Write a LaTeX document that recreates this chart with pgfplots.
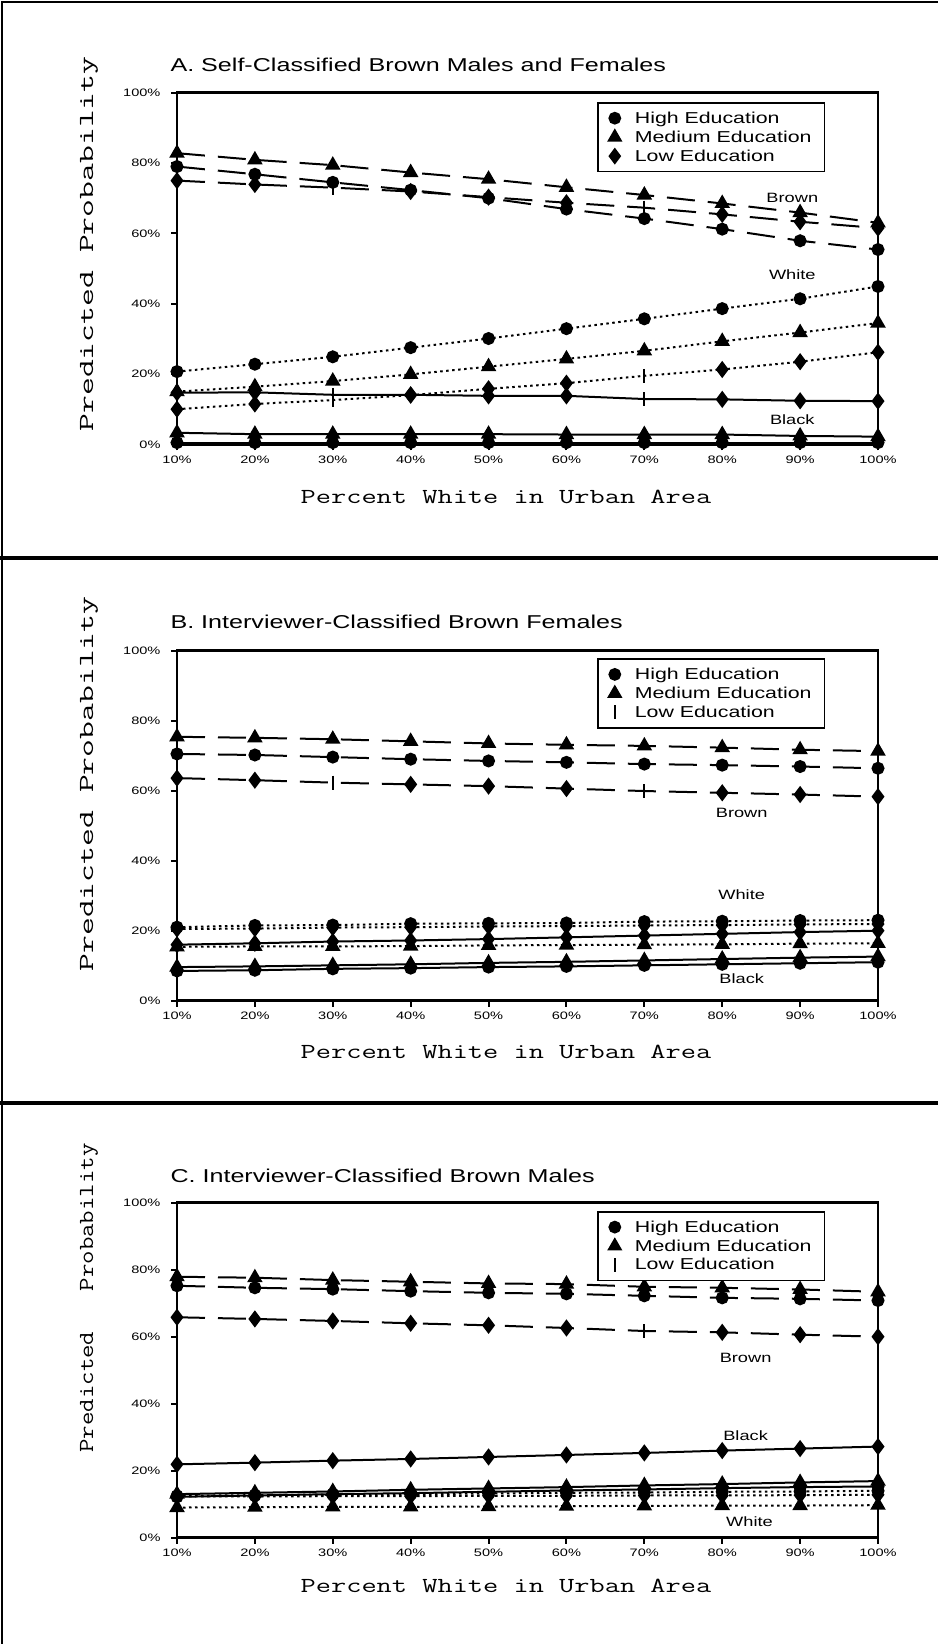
\documentclass[border=0pt]{standalone}
\usepackage{fontspec}
\setmainfont{Liberation Sans}[FakeStretch=1.35]
\usepackage{graphicx}
\usepackage{pgfplots}
\usepackage{pgfplotstable}
\pgfplotsset{compat=1.18}

% br = Brown, wh = White, bk = Black; h/m/l = high/medium/low education
\pgfplotstableread{
x   brh  brm  brl  whh  whm  whl  bkh  bkm  bkl
10  79.0 82.8 75.0 20.7 15.0 10.0 0.5  3.3  14.7
20  76.8 80.9 73.9 22.8 16.4 11.5 0.5  2.9  14.8
30  74.5 79.4 73.0 24.9 18.0 12.6 0.5  2.9  14.1
40  72.3 77.3 71.9 27.5 19.9 14.0 0.5  2.9  14.1
50  70.0 75.4 70.3 30.1 22.1 15.8 0.5  2.9  13.8
60  66.9 73.1 68.7 32.9 24.3 17.4 0.5  2.8  13.8
70  64.2 70.9 67.3 35.7 26.6 19.5 0.5  2.8  12.9
80  61.2 68.5 65.4 38.6 29.3 21.3 0.5  2.8  12.8
90  57.9 65.9 63.3 41.4 31.8 23.5 0.5  2.4  12.4
100 55.4 63.0 61.5 44.9 34.5 26.2 0.5  2.2  12.3
}\dataA

\pgfplotstableread{
x   brh  brm  brl  whh  whm  whl  bkh  bkm  bkl
10  70.5 75.4 63.6 21.0 15.4 20.5 8.5  9.6  16.0
20  70.2 75.1 63.0 21.5 15.5 20.6 8.7  9.8  16.4
30  69.6 74.7 62.3 21.6 15.5 20.9 9.1  10.1 16.9
40  69.0 74.1 61.8 22.0 15.6 21.0 9.3  10.4 17.2
50  68.5 73.5 61.3 22.1 15.8 21.2 9.6  10.8 17.6
60  68.1 73.1 60.6 22.2 15.9 21.3 9.8  11.1 18.1
70  67.6 72.8 59.9 22.6 16.0 21.5 10.1 11.5 18.6
80  67.3 72.3 59.4 22.7 16.1 21.6 10.4 11.9 19.1
90  66.9 71.7 58.9 22.9 16.3 21.8 10.7 12.3 19.6
100 66.4 71.3 58.3 23.0 16.4 21.9 11.0 12.6 20.0
}\dataB

\pgfplotstableread{
x   brh  brm  brl  whh  whm  whl  bkh  bkm  bkl
10  75.2 77.9 65.8 12.5 9.0  12.3 12.2 13.0 21.9
20  74.6 77.6 65.3 12.7 9.1  12.3 12.6 13.4 22.4
30  74.2 76.9 64.7 12.9 9.2  12.4 13.0 13.8 23.0
40  73.6 76.4 64.0 13.0 9.2  12.4 13.3 14.3 23.5
50  73.1 75.9 63.4 13.2 9.3  12.5 13.7 14.7 24.1
60  72.8 75.7 62.6 13.4 9.4  12.5 14.1 15.1 24.7
70  72.2 74.9 61.7 13.5 9.5  12.6 14.4 15.6 25.3
80  71.6 74.6 61.3 13.7 9.6  12.6 14.8 16.0 26.0
90  71.3 74.1 60.6 13.8 9.6  12.7 15.1 16.5 26.6
100 70.8 73.4 60.0 14.0 9.7  12.8 15.3 16.9 27.2
}\dataC

\pgfplotsset{
  panel/.style={
    scale only axis, width=701pt,
    xmin=10, xmax=100, ymin=0, ymax=100,
    xtick={10,20,...,100},
    xticklabels={10\%,20\%,30\%,40\%,50\%,60\%,70\%,80\%,90\%,100\%},
    ytick={0,20,...,100},
    yticklabels={0\%,20\%,40\%,60\%,80\%,100\%},
    xtick pos=bottom, ytick pos=left,
    tick align=outside, major tick length=6pt,
    axis line style={line width=2.5pt},
    every tick/.style={black, line width=2pt},
    tick label style={font=\fontsize{10.8}{13}\selectfont},
    xticklabel style={yshift=-2pt},
    yticklabel style={xshift=-7pt},
    clip=false,
    legend cell align=left,
    legend style={draw=black, line width=1.8pt, anchor=north east,
      font=\fontsize{15.8}{18}\selectfont, row sep=2pt, column sep=12pt,
      inner xsep=11pt, inner ysep=7pt},
  },
  brn/.style={black, line width=2pt, dash pattern=on 28pt off 13pt},
  wht/.style={black, line width=2pt, dash pattern=on 2.5pt off 3.5pt},
  blk/.style={black, line width=2pt, solid},
  hi/.style={mark=*, mark size=5.5pt, mark options={solid}},
  me/.style={mark=triangle*, mark size=7pt, mark options={solid}},
  lo/.style={mark=diamond*, mark size=7pt, mark options={solid}},
  vb/.style={only marks, mark=|, mark size=7pt, line width=2pt, mark options={solid}},
}
\tikzset{grp lbl/.style={font=\fontsize{13.5}{15}\selectfont}}

\newcommand{\ttlbl}[2][1.38]{\scalebox{#1}[1]{\fontsize{21.4}{22}\selectfont\ttfamily #2}}

\begin{document}
\begin{tikzpicture}
\useasboundingbox (0pt,0pt) rectangle (938pt,1644pt);
% panel frames
\draw[line width=2pt] (2pt,0pt) -- (2pt,1642pt) -- (938pt,1642pt);
\draw[line width=4pt] (0pt,1086pt) -- (938pt,1086pt);
\draw[line width=4pt] (0pt,541pt) -- (938pt,541pt);

% ---------- A ----------
\begin{axis}[panel, height=351.7pt, at={(177pt,1199.6pt)}, anchor=south west,
  legend style={at={(rel axis cs:0.925,0.974)}}]
\addlegendimage{only marks, hi}\addlegendentry{High Education}
\addlegendimage{only marks, me}\addlegendentry{Medium Education}
\addlegendimage{only marks, lo}\addlegendentry{Low Education}
\addplot[brn, me, forget plot] table[y=brm]{\dataA};
\addplot[brn, hi, forget plot] table[y=brh]{\dataA};
\addplot[brn, lo, mark indices={1,2,4,5,6,8,9,10}, forget plot] table[y=brl]{\dataA};
\addplot[vb, mark indices={3,7}, forget plot] table[y=brl]{\dataA};
\addplot[wht, hi, forget plot] table[y=whh]{\dataA};
\addplot[wht, me, forget plot] table[y=whm]{\dataA};
\addplot[wht, lo, mark indices={1,2,4,5,6,8,9,10}, forget plot] table[y=whl]{\dataA};
\addplot[vb, mark indices={3,7}, forget plot] table[y=whl]{\dataA};
\addplot[blk, lo, mark indices={1,2,4,5,6,8,9,10}, forget plot] table[y=bkl]{\dataA};
\addplot[vb, mark indices={3,7}, forget plot] table[y=bkl]{\dataA};
\addplot[blk, me, forget plot] table[y=bkm]{\dataA};
\addplot[blk, hi, forget plot] table[y=bkh]{\dataA};
\node[grp lbl] at (axis cs:89,70.2) {Brown};
\node[grp lbl] at (axis cs:89,48.2) {White};
\node[grp lbl] at (axis cs:89,7.1) {Black};
\end{axis}

% ---------- B ----------
\begin{axis}[panel, height=350pt, at={(177pt,643.3pt)}, anchor=south west,
  legend style={at={(rel axis cs:0.925,0.979)}}]
\addlegendimage{only marks, hi}\addlegendentry{High Education}
\addlegendimage{only marks, me}\addlegendentry{Medium Education}
\addlegendimage{vb}\addlegendentry{Low Education}
\addplot[brn, me, forget plot] table[y=brm]{\dataB};
\addplot[brn, hi, forget plot] table[y=brh]{\dataB};
\addplot[brn, lo, mark indices={1,2,4,5,6,8,9,10}, forget plot] table[y=brl]{\dataB};
\addplot[vb, mark indices={3,7}, forget plot] table[y=brl]{\dataB};
\addplot[wht, hi, forget plot] table[y=whh]{\dataB};
\addplot[wht, lo, forget plot] table[y=whl]{\dataB};
\addplot[wht, me, forget plot] table[y=whm]{\dataB};
\addplot[blk, lo, forget plot] table[y=bkl]{\dataB};
\addplot[blk, me, forget plot] table[y=bkm]{\dataB};
\addplot[blk, hi, forget plot] table[y=bkh]{\dataB};
\node[grp lbl] at (axis cs:82.5,53.7) {Brown};
\node[grp lbl] at (axis cs:82.5,30.4) {White};
\node[grp lbl] at (axis cs:82.5,6.3) {Black};
\end{axis}

% ---------- C ----------
\begin{axis}[panel, height=335pt, at={(177pt,106.3pt)}, anchor=south west,
  legend style={at={(rel axis cs:0.925,0.976)}}]
\addlegendimage{only marks, hi}\addlegendentry{High Education}
\addlegendimage{only marks, me}\addlegendentry{Medium Education}
\addlegendimage{vb}\addlegendentry{Low Education}
\addplot[brn, me, forget plot] table[y=brm]{\dataC};
\addplot[brn, hi, forget plot] table[y=brh]{\dataC};
\addplot[brn, lo, mark indices={1,2,3,4,5,6,8,9,10}, forget plot] table[y=brl]{\dataC};
\addplot[vb, mark indices={7}, forget plot] table[y=brl]{\dataC};
\addplot[blk, lo, forget plot] table[y=bkl]{\dataC};
\addplot[blk, me, forget plot] table[y=bkm]{\dataC};
\addplot[blk, hi, forget plot] table[y=bkh]{\dataC};
\addplot[wht, hi, forget plot] table[y=whh]{\dataC};
\addplot[wht, lo, forget plot] table[y=whl]{\dataC};
\addplot[wht, me, forget plot] table[y=whm]{\dataC};
\node[grp lbl] at (axis cs:83,53.8) {Brown};
\node[grp lbl] at (axis cs:83,30.5) {Black};
\node[grp lbl] at (axis cs:83.5,4.7) {White};
\end{axis}

% titles
\node[anchor=west, font=\fontsize{18.6}{20}\selectfont] at (167pt,1579pt) {A. Self-Classified Brown Males and Females};
\node[anchor=west, font=\fontsize{18.6}{20}\selectfont] at (167pt,1022.4pt) {B. Interviewer-Classified Brown Females};
\node[anchor=west, font=\fontsize{18.6}{20}\selectfont] at (167pt,468pt) {C. Interviewer-Classified Brown Males};
% axis labels
\node[rotate=90] at (89pt,1400pt) {\ttlbl[1.62]{Predicted Probability}};
\node[rotate=90] at (89pt,860pt) {\ttlbl[1.62]{Predicted Probability}};
\node[rotate=90] at (89pt,346pt) {\ttlbl[1.22]{Predicted~~~Probability}};
\node at (506pt,1147pt) {\ttlbl{Percent White in Urban Area}};
\node at (506pt,592pt) {\ttlbl{Percent White in Urban Area}};
\node at (506pt,58pt) {\ttlbl{Percent White in Urban Area}};
\end{tikzpicture}
\end{document}
